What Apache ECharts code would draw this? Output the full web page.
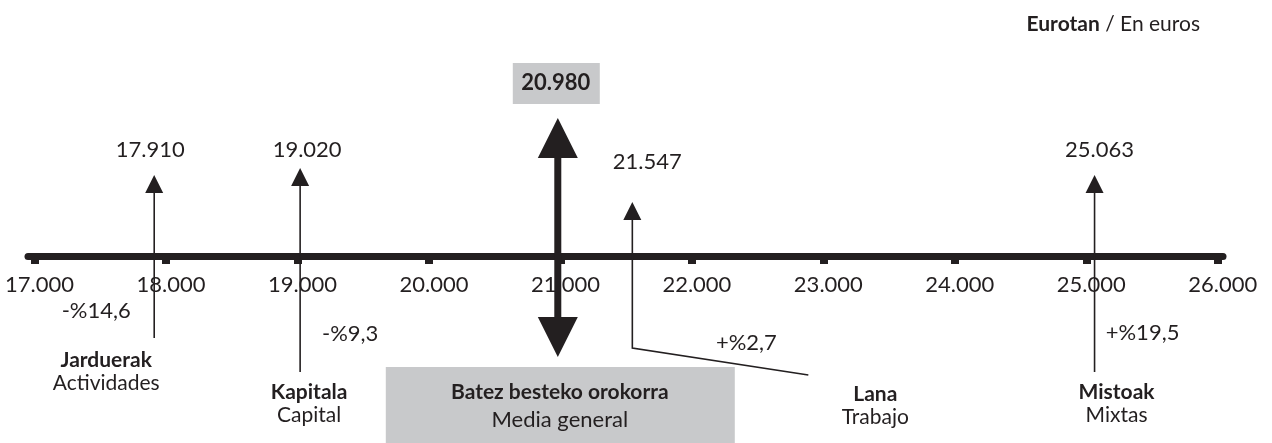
<!doctype html>
<html>
<head>
<meta charset="utf-8">
<title>Eurotan / En euros</title>
<style>
  html, body { margin: 0; padding: 0; background: #fff; }
  #chart { width: 1272px; height: 443px; }
</style>
</head>
<body>
<div id="chart"></div>
<script src="https://cdn.jsdelivr.net/npm/echarts@6/dist/echarts.min.js"></script>
<script>
// datuak / datos
var sectorsEu = ['Jarduerak', 'Kapitala', 'Lana', 'Mistoak'];
var sectorsEs = ['Actividades', 'Capital', 'Trabajo', 'Mixtas'];
var wages = [17910, 19020, 21547, 25063];
var changes = ['-%14,6', '-%9,3', '+%2,7', '+%19,5'];
var average = 20980;
var averageEu = 'Batez besteko orokorra';
var averageEs = 'Media general';
var ticks = [17000, 18000, 19000, 20000, 21000, 22000, 23000, 24000, 25000, 26000];

var INK = '#231f20';
var GREY = '#c8c9cb';
var FONT = 'Lato, "Open Sans", sans-serif';

// label placement for each arrow, offsets from the point on the axis
var place = [
    {tip: -81, foot: 82,  val: [-4, -106], pct: [-58, 55], name: [-48, 104]},
    {tip: -88, foot: 116, val: [7, -106],  pct: [50, 78],  name: [9, 136]},
    {tip: -54, foot: 92,  val: [15, -94],  pct: [114, 87], name: [243, 138], elbow: [176, 119]},
    {tip: -81, foot: 116, val: [5, -106],  pct: [48, 77],  name: [22, 136]}
];

function fmt(v) {
    return String(v).replace(/\B(?=(\d{3})+(?!\d))/g, '.');
}

function txt(s, x, y, size, bold, align) {
    return {
        type: 'text',
        style: {
            text: s, x: x, y: y, fill: INK,
            fontSize: size, fontFamily: FONT, fontWeight: bold ? 'bold' : 'normal',
            align: align || 'center', verticalAlign: 'middle'
        }
    };
}

function head(x, y, half, h, up) {
    var b = up ? y + h : y - h;
    return {type: 'polygon', shape: {points: [[x, y], [x - half, b], [x + half, b]]}, style: {fill: INK}};
}

function sectorItem(params, api) {
    var i = params.dataIndex;
    var p = api.coord([api.value(0), 0]);
    var x = p[0], y = p[1], L = place[i];
    var pts = [[x, y + L.tip + 16], [x, y + L.foot]];
    if (L.elbow) pts.push([x + L.elbow[0], y + L.elbow[1]]);
    return {
        type: 'group',
        children: [
            {type: 'polyline', shape: {points: pts}, style: {stroke: INK, lineWidth: 1.6, fill: null}},
            head(x, y + L.tip, 9, 18, true),
            txt(fmt(wages[i]), x + L.val[0], y + L.val[1], 22, false),
            txt(changes[i], x + L.pct[0], y + L.pct[1], 22, false),
            txt(sectorsEu[i], x + L.name[0], y + L.name[1], 21, true),
            txt(sectorsEs[i], x + L.name[0], y + L.name[1] + 23, 21, false)
        ]
    };
}

function averageItem(params, api) {
    var p = api.coord([api.value(0), 0]);
    var x = p[0], y = p[1];
    return {
        type: 'group',
        children: [
            {type: 'rect', shape: {x: x - 45, y: y - 193, width: 87, height: 41}, style: {fill: GREY}},
            txt(fmt(api.value(0)), x - 2, y - 173, 22, true),
            {type: 'rect', shape: {x: x - 172, y: y + 111, width: 349, height: 80}, style: {fill: GREY}},
            txt(averageEu, x + 2, y + 136, 21, true),
            txt(averageEs, x + 2, y + 164, 22, false),
            {type: 'line', shape: {x1: x, y1: y - 100, x2: x, y2: y + 64}, style: {stroke: INK, lineWidth: 7}},
            head(x, y - 138, 20, 40, true),
            head(x, y + 101, 20, 40, false)
        ]
    };
}

var chart = echarts.init(document.getElementById('chart'));
chart.setOption({
    animation: false,
    backgroundColor: '#fff',
    title: {
        text: '{b|Eurotan} / En euros',
        right: 67,
        top: 9,
        textStyle: {
            fontSize: 21, fontWeight: 'normal', color: INK, fontFamily: FONT,
            rich: {b: {fontSize: 21, fontWeight: 'bold', color: INK, fontFamily: FONT}}
        }
    },
    grid: {left: 28, right: 49, top: 0, bottom: 187},
    xAxis: {
        type: 'value',
        min: 16950,
        max: 26040,
        axisLine: {onZero: false, lineStyle: {color: INK, width: 7}},
        axisTick: {customValues: ticks, length: 8, lineStyle: {color: INK, width: 8}},
        axisLabel: {
            customValues: ticks, margin: 18, fontSize: 22, color: INK, fontFamily: FONT,
            padding: [0, 0, 0, 10],
            formatter: function (v) { return fmt(v); }
        },
        splitLine: {show: false}
    },
    yAxis: {type: 'value', min: 0, max: 256, show: false},
    series: [
        {type: 'custom', renderItem: sectorItem, data: wages.map(function (v) { return [v]; }), clip: false, z: 3},
        {type: 'custom', renderItem: averageItem, data: [[average]], clip: false, z: 4}
    ]
});
</script>
</body>
</html>
